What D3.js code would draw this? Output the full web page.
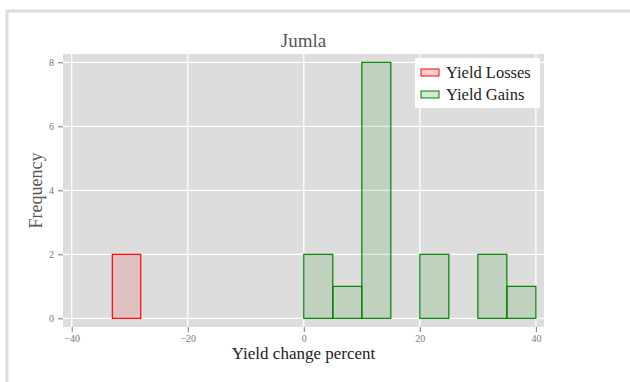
<!DOCTYPE html>
<html><head><meta charset="utf-8">
<script src="https://cdn.jsdelivr.net/npm/d3@7"></script>
<style>body{margin:0;background:#fff}svg{display:block}text{font-family:"Liberation Serif","DejaVu Serif",serif}</style>
</head><body>
<script>
const title = "Jumla";
const xLabel = "Yield change percent";
const yLabel = "Frequency";
const xTicks = [-40, -20, 0, 20, 40];
const yTicks = [0, 2, 4, 6, 8];
const lossBinStarts = [-33];
const lossBinEnds = [-28.1];
const lossCounts = [2];
const gainBinStarts = [0, 5, 10, 20, 30, 35];
const gainBinEnds = [5, 10, 15, 25, 35, 40];
const gainCounts = [2, 1, 8, 2, 2, 1];
const legendLabels = ["Yield Losses", "Yield Gains"];

const W = 630, H = 382;
const svg = d3.select("body").append("svg").attr("width", W).attr("height", H);

// outer frame
svg.append("rect").attr("x", 7).attr("y", 11).attr("width", 700).attr("height", 500)
  .attr("fill", "none").attr("stroke", "#dcdcdc").attr("stroke-width", 3);

const px0 = 63, px1 = 544, py0 = 54, py1 = 327;
const x = d3.scaleLinear().domain([-41.5, 41.4]).range([px0, px1]);
const y = d3.scaleLinear().domain([-0.27, 8.26]).range([py1, py0]);

svg.append("rect").attr("x", px0).attr("y", py0).attr("width", px1 - px0).attr("height", py1 - py0).attr("fill", "#dddddd");

const g = svg.append("g");
g.selectAll("line.vx").data(xTicks).join("line")
  .attr("x1", d => x(d)).attr("x2", d => x(d)).attr("y1", py0).attr("y2", py1)
  .attr("stroke", "#fff").attr("stroke-width", 1.3);
g.selectAll("line.hy").data(yTicks).join("line")
  .attr("y1", d => y(d)).attr("y2", d => y(d)).attr("x1", px0).attr("x2", px1)
  .attr("stroke", "#fff").attr("stroke-width", 1.3);

const losses = lossCounts.map((c, i) => ({x0: lossBinStarts[i], x1: lossBinEnds[i], c}));
const gains = gainCounts.map((c, i) => ({x0: gainBinStarts[i], x1: gainBinEnds[i], c}));

function bars(data, fill, stroke) {
  g.append("g").selectAll("rect").data(data).join("rect")
    .attr("x", d => x(d.x0)).attr("width", d => x(d.x1) - x(d.x0))
    .attr("y", d => y(d.c)).attr("height", d => y(0) - y(d.c))
    .attr("fill", fill).attr("stroke", stroke).attr("stroke-width", 1.2);
}
bars(losses, "rgba(255,0,0,0.13)", "#ff0000");
bars(gains, "rgba(0,128,0,0.13)", "#008000");

// axes
const xAxis = d3.axisBottom(x).tickValues(xTicks).tickSize(5).tickPadding(3);
const xa = svg.append("g").attr("transform", `translate(0,${py1})`).call(xAxis);
xa.select(".domain").remove();
xa.selectAll("line").attr("stroke", "#777");
xa.selectAll("text").attr("fill", "#777").attr("font-size", 10).style("font-family", '"Liberation Serif",serif');

const yAxis = d3.axisLeft(y).tickValues(yTicks).tickSize(5).tickPadding(4);
const ya = svg.append("g").attr("transform", `translate(${px0},0)`).call(yAxis);
ya.select(".domain").remove();
ya.selectAll("line").attr("stroke", "#777");
ya.selectAll("text").attr("fill", "#777").attr("font-size", 10).style("font-family", '"Liberation Serif",serif');

svg.append("text").attr("x", (px0 + px1) / 2).attr("y", 47).attr("text-anchor", "middle")
  .attr("font-size", 19).attr("fill", "#555").text(title);
svg.append("text").attr("x", (px0 + px1) / 2).attr("y", 359).attr("text-anchor", "middle")
  .attr("font-size", 17).attr("fill", "#222").text(xLabel);
svg.append("text").attr("transform", `translate(42,${(py0 + py1) / 2}) rotate(-90)`).attr("text-anchor", "middle")
  .attr("font-size", 18).attr("fill", "#555").text(yLabel);

// legend
const lg = svg.append("g");
lg.append("rect").attr("x", 415).attr("y", 58).attr("width", 125).attr("height", 50).attr("fill", "#fff");
const lcol = [["rgba(255,0,0,0.18)", "#ff0000"], ["rgba(0,128,0,0.18)", "#008000"]];
legendLabels.forEach((lab, i) => {
  const yy = 69 + i * 22;
  lg.append("rect").attr("x", 421).attr("y", yy).attr("width", 18).attr("height", 7)
    .attr("fill", lcol[i][0]).attr("stroke", lcol[i][1]).attr("stroke-width", 1);
  lg.append("text").attr("x", 446).attr("y", yy + 9).attr("font-size", 16.5).attr("fill", "#222").text(lab);
});
</script>
</body></html>
